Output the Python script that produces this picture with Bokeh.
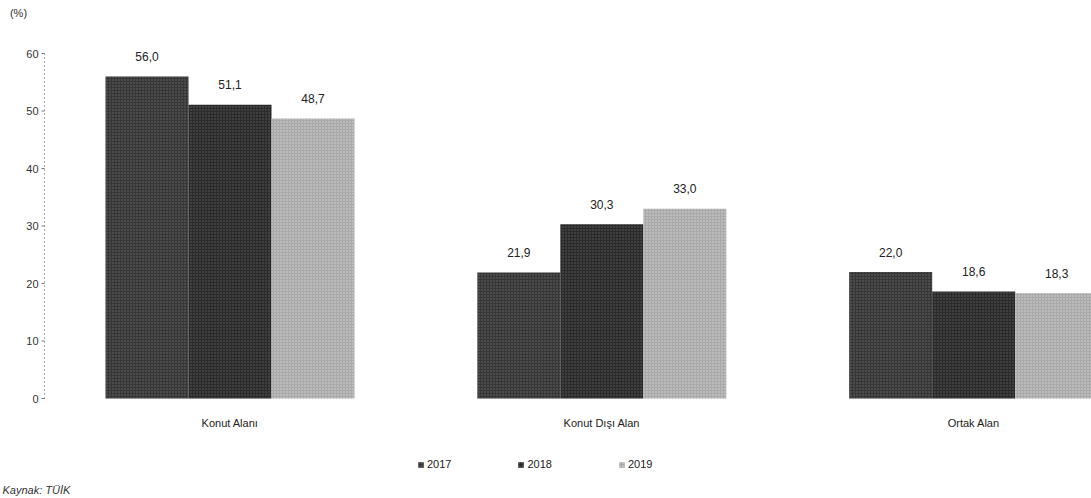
from bokeh.plotting import figure
from bokeh.models import ColumnDataSource, Range1d, Legend, LegendItem
from bokeh.core.properties import value
from bokeh.embed import file_html
from bokeh.resources import INLINE

# ---- data ----
categories = ["Konut Alanı", "Konut Dışı Alan", "Ortak Alan"]
years = ["2017", "2018", "2019"]
v2017 = [56.0, 21.9, 22.0]
v2018 = [51.1, 30.3, 18.6]
v2019 = [48.7, 33.0, 18.3]
y_ticks = [0, 10, 20, 30, 40, 50, 60]
unit_label = "(%)"
source_note = "Kaynak: TÜİK"

# ---- layout constants (pixels) ----
W, H = 1091, 498
PX_X = 83.0            # pixels per x unit (one bar width)
PX_Y = 5.75            # pixels per percent
ZERO_TOP = 398         # pixel row of the zero line
FIRST_BAR_LEFT = 105   # pixel column where the first bar starts
AXIS_PX = 44           # pixel column of the y axis
GROUP_STEP = 4.48      # distance between group centres (bar widths)
FONT = "Liberation Sans"

x_start = -1.5 - FIRST_BAR_LEFT / PX_X
x_end = x_start + W / PX_X
y_end = ZERO_TOP / PX_Y
y_start = -(H - ZERO_TOP) / PX_Y


def px_x(px):
    return x_start + px / PX_X


def px_y(px):
    return y_end - px / PX_Y


p = figure(width=W, height=H, output_backend="svg", toolbar_location=None,
           x_range=Range1d(x_start, x_end), y_range=Range1d(y_start, y_end),
           x_axis_location=None, y_axis_location=None,
           min_border_left=0, min_border_right=0,
           min_border_top=0, min_border_bottom=0)
p.outline_line_color = None
p.grid.visible = False
p.background_fill_color = "white"
p.border_fill_color = "white"

series = [v2017, v2018, v2019]
fills = ["#363636", "#2a2a2a", "#a9a9a9"]
hatch_cols = ["#9a9a9a", "#8a8a8a", "#ffffff"]
renderers = []
label_x, label_y, label_t = [], [], []
for j, vals in enumerate(series):
    xs = [i * GROUP_STEP + (j - 1) for i in range(len(categories))]
    src = ColumnDataSource(dict(x=xs, top=vals))
    r = p.vbar(x="x", top="top", bottom=0, width=1.0, source=src,
               fill_color=fills[j], line_color=None,
               hatch_pattern="dot", hatch_color=hatch_cols[j],
               hatch_scale=3, hatch_weight=1, hatch_alpha=0.55)
    renderers.append(r)
    for x, v in zip(xs, vals):
        label_x.append(x)
        label_y.append(v + 20 / PX_Y)
        label_t.append(f"{v:.1f}".replace(".", ","))

p.text(x=label_x, y=label_y, text=label_t, text_align="center",
       text_baseline="middle", text_font=value(FONT), text_font_size="12px",
       text_color="#222222")

cat_x = [i * GROUP_STEP for i in range(len(categories))]
p.text(x=cat_x, y=[-24 / PX_Y] * len(categories), text=categories,
       text_align="center", text_baseline="middle", text_font=value(FONT),
       text_font_size="11px", text_color="#222222")

# ---- y axis drawn in the plot area ----
ax_x = px_x(AXIS_PX)
p.segment(x0=[ax_x], y0=[min(y_ticks)], x1=[ax_x], y1=[max(y_ticks)],
          line_color="#555555", line_width=1, line_dash="1 3")
p.segment(x0=[px_x(AXIS_PX - 3)] * len(y_ticks), y0=y_ticks,
          x1=[ax_x] * len(y_ticks), y1=y_ticks, line_color="#777777", line_width=1)
p.text(x=[px_x(AXIS_PX - 6)] * len(y_ticks), y=y_ticks, text=[str(t) for t in y_ticks],
       text_align="right", text_baseline="middle", text_font=value(FONT),
       text_font_size="11px", text_color="#333333")
p.text(x=[px_x(18)], y=[px_y(12)], text=[unit_label], text_align="center",
       text_baseline="middle", text_font=value(FONT), text_font_size="11px",
       text_color="#333333")
p.text(x=[px_x(2)], y=[px_y(483)], text=[source_note], text_align="left",
       text_baseline="top", text_font=value(FONT), text_font_size="11px",
       text_font_style="italic", text_color="#333333")

legend = Legend(items=[LegendItem(label=years[j], renderers=[renderers[j]]) for j in range(3)],
                orientation="horizontal", location=(417, 28),
                glyph_width=7, glyph_height=7, label_standoff=3, spacing=66,
                label_text_font=FONT, label_text_font_size="11px",
                label_text_color="#222222", label_height=12,
                padding=0, margin=0, border_line_color=None,
                background_fill_alpha=0)
p.add_layout(legend)

open("out.html", "w").write(file_html(p, INLINE))
